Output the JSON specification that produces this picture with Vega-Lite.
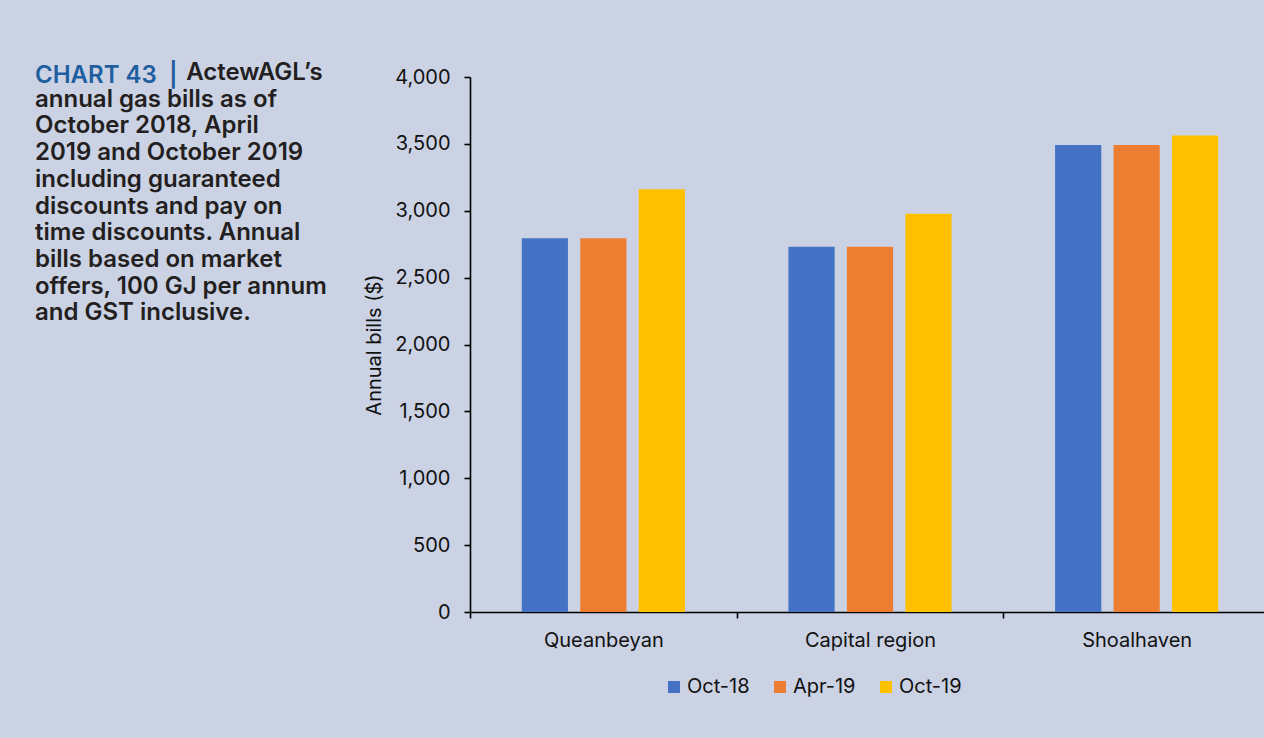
{
  "$schema": "https://vega.github.io/schema/vega-lite/v6.json",
  "autosize": {"type": "none"},
  "width": 794,
  "height": 535,
  "padding": {"left": 470, "top": 77, "right": 0, "bottom": 126},
  "background": "#cbd2e4",
  "config": {
    "view": {"stroke": null},
    "font": "Inter"
  },
  "title": {
    "text": "CHART 43\u00a0\u00a0|",
    "subtitle": [
      "\u200b\u00a0\u00a0\u00a0\u00a0\u00a0\u00a0\u00a0\u00a0\u00a0\u00a0\u00a0\u00a0\u00a0\u00a0\u00a0\u00a0\u00a0\u00a0\u00a0\u00a0\u00a0\u00a0\u00a0\u00a0\u00a0ActewAGL’s",
      "annual gas bills as of",
      "October 2018, April",
      "2019 and October 2019",
      "including guaranteed",
      "discounts and pay on",
      "time discounts. Annual",
      "bills based on market",
      "offers, 100 GJ per annum",
      "and GST inclusive."
    ],
    "anchor": "start",
    "frame": "group",
    "orient": "top",
    "offset": 0,
    "dx": -435,
    "dy": 261,
    "font": "Inter",
    "fontSize": 24,
    "fontWeight": 600,
    "color": "#1f5f9f",
    "lineHeight": 26.7,
    "subtitleFont": "Inter",
    "subtitleFontSize": 24,
    "subtitleFontWeight": 600,
    "subtitleColor": "#231f20",
    "subtitleLineHeight": 26.7,
    "subtitlePadding": -26.7
  },
  "data": {
    "values": [
      {"region": "Queanbeyan", "period": "Oct-18", "bill": 2795},
      {"region": "Queanbeyan", "period": "Apr-19", "bill": 2795},
      {"region": "Queanbeyan", "period": "Oct-19", "bill": 3160},
      {"region": "Capital region", "period": "Oct-18", "bill": 2730},
      {"region": "Capital region", "period": "Apr-19", "bill": 2730},
      {"region": "Capital region", "period": "Oct-19", "bill": 2977},
      {"region": "Shoalhaven", "period": "Oct-18", "bill": 3492},
      {"region": "Shoalhaven", "period": "Apr-19", "bill": 3492},
      {"region": "Shoalhaven", "period": "Oct-19", "bill": 3562}
    ]
  },
  "mark": {"type": "bar"},
  "encoding": {
    "x": {
      "field": "region",
      "type": "nominal",
      "sort": ["Queanbeyan", "Capital region", "Shoalhaven"],
      "scale": {"range": [0, 800], "paddingInner": 0, "paddingOuter": 0},
      "axis": {
        "title": null,
        "labelAngle": 0,
        "labelFont": "Inter",
        "labelFontSize": 20,
        "labelColor": "#111111",
        "labelPadding": 12,
        "domainColor": "#000000",
        "domainWidth": 1.6,
        "tickColor": "#000000",
        "tickWidth": 1.6,
        "tickSize": 6,
        "tickBand": "extent"
      }
    },
    "xOffset": {
      "field": "period",
      "type": "nominal",
      "sort": ["Oct-18", "Apr-19", "Oct-19"],
      "scale": {"paddingInner": 0.21, "paddingOuter": 0.885}
    },
    "y": {
      "field": "bill",
      "type": "quantitative",
      "scale": {"domain": [0, 4000]},
      "axis": {
        "title": "Annual bills ($)",
        "titleFont": "Inter",
        "titleFontSize": 20,
        "titleFontWeight": "normal",
        "titleColor": "#111111",
        "titlePadding": 10,
        "values": [0, 500, 1000, 1500, 2000, 2500, 3000, 3500, 4000],
        "format": ",d",
        "grid": false,
        "labelFont": "Inter",
        "labelFontSize": 20,
        "labelColor": "#111111",
        "labelPadding": 14,
        "domainColor": "#000000",
        "domainWidth": 1.6,
        "tickColor": "#000000",
        "tickWidth": 1.6,
        "tickSize": 6
      }
    },
    "color": {
      "field": "period",
      "type": "nominal",
      "sort": ["Oct-18", "Apr-19", "Oct-19"],
      "scale": {"domain": ["Oct-18", "Apr-19", "Oct-19"], "range": ["#4472c4", "#ed7d31", "#ffc000"]},
      "legend": {
        "title": null,
        "orient": "none",
        "direction": "horizontal",
        "legendX": 194,
        "legendY": 600,
        "symbolType": "square",
        "symbolSize": 144,
        "symbolStrokeWidth": 0,
        "labelFont": "Inter",
        "labelFontSize": 20,
        "labelColor": "#111111",
        "labelOffset": 3,
        "columnPadding": 20
      }
    }
  }
}
